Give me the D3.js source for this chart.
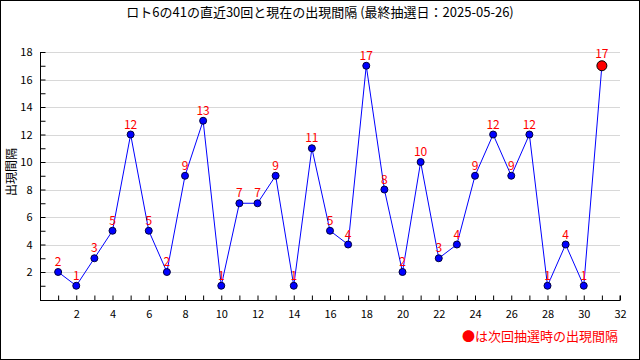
<!DOCTYPE html>
<html><head><meta charset="utf-8">
<script src="https://cdn.jsdelivr.net/npm/d3@7"></script>
<style>body{margin:0;background:#fff}svg{display:block}</style>
</head><body><svg id="c" width="640" height="360"></svg>
<script>
const draws = d3.range(1, 32);
const intervals = [2,1,3,5,12,5,2,9,13,1,7,7,9,1,11,5,4,17,8,2,10,3,4,9,12,9,12,1,4,1,17];
const xTicks = d3.range(2, 33, 2);
const yTicks = d3.range(2, 19, 2);
const title = "ロト6の41の直近30回と現在の出現間隔 (最終抽選日：2025-05-26)";
const yLabel = "出現間隔";
const legendText = "●は次回抽選時の出現間隔";

const font = "'Noto Sans CJK JP', sans-serif";
const svg = d3.select("#c");
svg.append("rect").attr("x",0.5).attr("y",0.5).attr("width",639).attr("height",359)
  .attr("fill","#fff").attr("stroke","#000");

const x = d3.scaleLinear().domain([0,32]).range([40,620]);
const y = d3.scaleLinear().domain([0,18]).range([299.5,52]);

// grid
svg.append("g").selectAll("line").data(yTicks).join("line")
  .attr("x1",40).attr("x2",620).attr("y1",d=>Math.round(y(d))+0.5).attr("y2",d=>Math.round(y(d))+0.5)
  .attr("stroke","#d8d8d8");

// axes
const yAxis = d3.axisLeft(y).tickValues(d3.range(1,19)).tickSize(-5).tickPadding(8)
  .tickFormat(d=>d%2===0?d:"");
const gy = svg.append("g").attr("transform","translate(40.5,0)").call(yAxis);
const xAxis = d3.axisBottom(x).tickValues(d3.range(1,33)).tickSize(-5).tickPadding(10)
  .tickFormat(d=>d%2===0?d:"");
const gx = svg.append("g").attr("transform","translate(0,300.5)").call(xAxis);
[gx,gy].forEach(g=>{
  g.select(".domain").attr("stroke","#000");
  g.selectAll(".tick line").attr("stroke","#000");
  g.selectAll("text").attr("font-family",font).attr("font-size",11).attr("fill","#000");
});
gy.select(".domain").attr("d","M0,300V52");
gx.select(".domain").attr("d","M40,0H620V-5");

// line
const pts = draws.map((d,i)=>({d, v:intervals[i]}));
svg.append("path").datum(pts).attr("fill","none").attr("stroke","#0000ff").attr("stroke-width",1)
  .attr("d", d3.line().x(p=>x(p.d)).y(p=>y(p.v)));

// points
svg.append("g").selectAll("circle").data(pts).join("circle")
  .attr("cx",p=>x(p.d)).attr("cy",p=>y(p.v))
  .attr("r",(p,i)=>i===pts.length-1?5:3.5)
  .attr("fill",(p,i)=>i===pts.length-1?"#ff0000":"#0000ff")
  .attr("stroke",(p,i)=>i===pts.length-1?"#000":"#000040").attr("stroke-width",1);

// labels
svg.append("g").selectAll("text").data(pts).join("text")
  .attr("x",p=>x(p.d)).attr("y",(p,i)=>y(p.v)-(i===pts.length-1?8:6))
  .attr("text-anchor","middle").attr("font-family",font).attr("font-size",12)
  .attr("fill","#ff0000").text(p=>p.v);

// title
svg.append("text").attr("x",320).attr("y",17).attr("text-anchor","middle")
  .attr("font-family",font).attr("font-size",13).attr("fill","#000").text(title);

// y label
svg.append("text").attr("transform","translate(16,172) rotate(-90)").attr("text-anchor","middle")
  .attr("font-family",font).attr("font-size",12).attr("fill","#000").text(yLabel);

// legend
svg.append("text").attr("x",618).attr("y",341).attr("text-anchor","end")
  .attr("font-family",font).attr("font-size",13).attr("fill","#ff0000").text(legendText);
</script></body></html>
